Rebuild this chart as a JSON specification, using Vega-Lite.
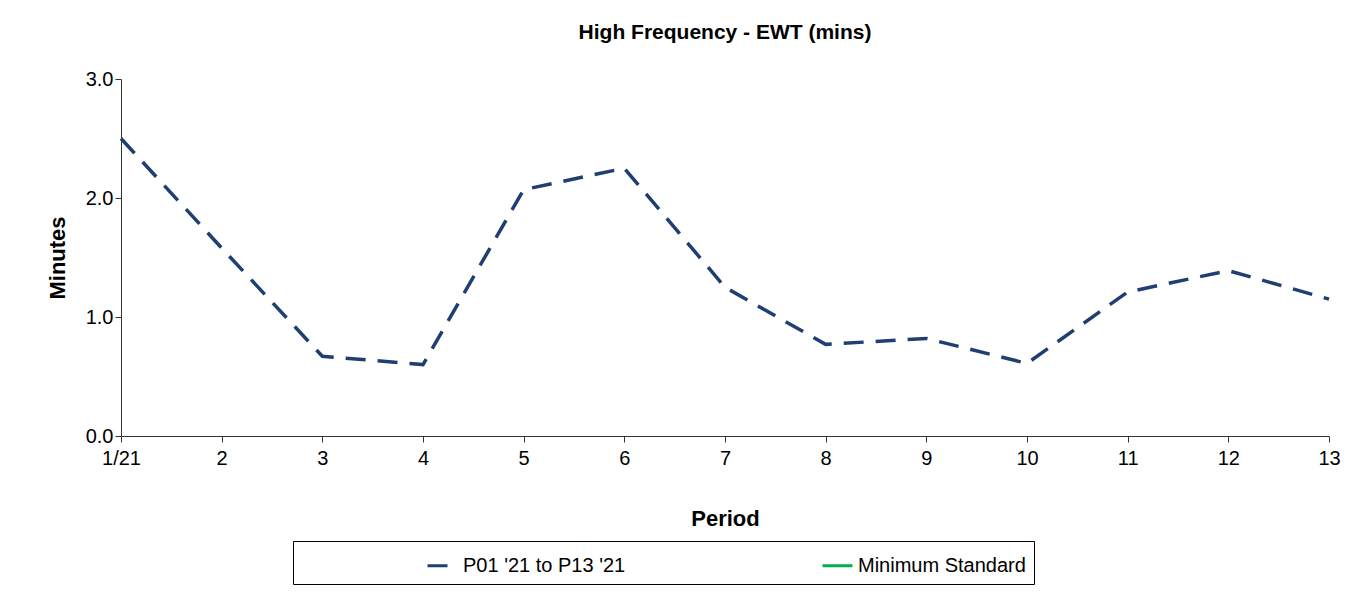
{
"$schema":"https://vega.github.io/schema/vega-lite/v6.json",
"width":1208,"height":357,
"autosize":{"type":"none"},
"padding":{"left":121,"top":79,"right":35,"bottom":157},
"title":{"text":"High Frequency - EWT (mins)","font":"Liberation Sans","fontSize":21,"fontWeight":"bold","offset":26,"color":"black","anchor":"middle"},
"data":{"values":[
{"p":1,"v":2.5,"s":"P01 '21 to P13 '21"},{"p":2,"v":1.58,"s":"P01 '21 to P13 '21"},{"p":3,"v":0.67,"s":"P01 '21 to P13 '21"},{"p":4,"v":0.6,"s":"P01 '21 to P13 '21"},{"p":5,"v":2.07,"s":"P01 '21 to P13 '21"},{"p":6,"v":2.25,"s":"P01 '21 to P13 '21"},{"p":7,"v":1.25,"s":"P01 '21 to P13 '21"},{"p":8,"v":0.77,"s":"P01 '21 to P13 '21"},{"p":9,"v":0.82,"s":"P01 '21 to P13 '21"},{"p":10,"v":0.61,"s":"P01 '21 to P13 '21"},{"p":11,"v":1.21,"s":"P01 '21 to P13 '21"},{"p":12,"v":1.39,"s":"P01 '21 to P13 '21"},{"p":13,"v":1.15,"s":"P01 '21 to P13 '21"}
]},
"mark":{"type":"line","strokeWidth":3.5},
"encoding":{
"x":{"field":"p","type":"quantitative","scale":{"domain":[1,13],"nice":false},
"axis":{"values":[1,2,3,4,5,6,7,8,9,10,11,12,13],"labelExpr":"datum.value==1?'1/21':datum.value","title":"Period","grid":false,"tickSize":6,"labelFlush":false,"labelFontSize":20,"titleFontSize":22,"titlePadding":40,"labelPadding":6}},
"y":{"field":"v","type":"quantitative","scale":{"domain":[0,3],"nice":false},
"axis":{"values":[0,1,2,3],"format":".1f","title":"Minutes","grid":false,"tickSize":6,"labelFontSize":20,"titleFontSize":22,"titlePadding":16}},
"color":{"field":"s","type":"nominal","scale":{"domain":["P01 '21 to P13 '21","Minimum Standard"],"range":["#1f3f73","#00b050"]},
"legend":{"title":null,"orient":"none","legendX":172,"legendY":462,"direction":"horizontal","columns":2,"strokeColor":"black","padding":8,"symbolType":"stroke","symbolSize":900,"symbolStrokeWidth":3,"labelFontSize":20,"columnPadding":70,"labelLimit":400,"fillColor":"white","symbolOffset":125}},
"strokeDash":{"field":"s","type":"nominal","scale":{"domain":["P01 '21 to P13 '21","Minimum Standard"],"range":[[20,12],[1,0]]},"legend":null}
},
"config":{"font":"Liberation Sans","view":{"stroke":null},"axis":{"domainColor":"#333","tickColor":"#333","labelColor":"black","titleColor":"black","titleFontWeight":"bold"},"legend":{"labelColor":"black"}}
}
